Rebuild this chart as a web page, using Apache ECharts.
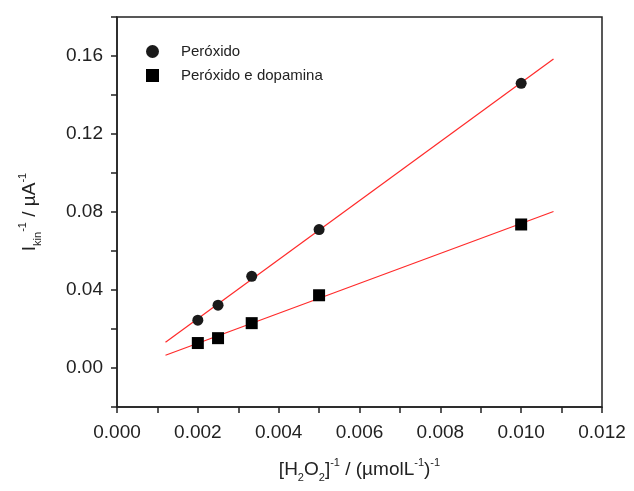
<!DOCTYPE html>
<html>
<head>
<meta charset="utf-8">
<script src="https://cdn.jsdelivr.net/npm/echarts@6/dist/echarts.min.js"></script>
<style>
  html, body { margin: 0; padding: 0; background: #fff; }
  #chart { width: 634px; height: 491px; }
</style>
</head>
<body>
<div id="chart"></div>
<script>
// dados
var xValues = [0.002, 0.0025, 0.003333, 0.005, 0.010];
var peroxido = [0.0245, 0.0322, 0.047, 0.071, 0.146];
var peroxidoDopamina = [0.0128, 0.0153, 0.023, 0.0373, 0.0736];
var seriesNames = ['Peróxido', 'Peróxido e dopamina'];
var fitRange = [0.0012, 0.0108];

// ajuste linear (mínimos quadrados)
function linFit(xs, ys) {
  var n = xs.length, sx = 0, sy = 0, sxx = 0, sxy = 0;
  for (var i = 0; i < n; i++) {
    sx += xs[i]; sy += ys[i]; sxx += xs[i] * xs[i]; sxy += xs[i] * ys[i];
  }
  var b = (n * sxy - sx * sy) / (n * sxx - sx * sx);
  var a = (sy - b * sx) / n;
  return fitRange.map(function (x) { return [x, a + b * x]; });
}

function pairs(xs, ys) {
  return xs.map(function (x, i) { return [x, ys[i]]; });
}

var font = '"Liberation Sans", Arial, sans-serif';
var chart = echarts.init(document.getElementById('chart'));

chart.setOption({
  animation: false,
  textStyle: { fontFamily: font },
  grid: {
    left: 117, right: 32, top: 17, bottom: 84,
    show: true, borderColor: '#222', borderWidth: 1.5
  },
  legend: {
    orient: 'vertical',
    left: 141, top: 39,
    itemWidth: 13, itemHeight: 13, itemGap: 9,
    data: [
      { name: seriesNames[0], icon: 'circle' },
      { name: seriesNames[1], icon: 'rect' }
    ],
    textStyle: { fontSize: 15, color: '#222', padding: [0, 0, 0, 17] }
  },
  xAxis: {
    type: 'value',
    min: 0, max: 0.012, interval: 0.001,
    splitLine: { show: false },
    axisLine: { onZero: false, lineStyle: { color: '#222', width: 1.5 } },
    axisTick: { length: 6, lineStyle: { color: '#222', width: 1.5 } },
    axisLabel: {
      fontSize: 19, color: '#222', margin: 16,
      formatter: function (v) {
        var k = Math.round(v * 1000);
        return k % 2 === 0 ? v.toFixed(3) : '';
      }
    },
    name: '{a|[H}{sub|2}{a|O}{sub|2}{a|]}{sup|-1}{a| / (µmolL}{sup|-1}{a|)}{sup|-1}',
    nameLocation: 'middle',
    nameGap: 50,
    nameTextStyle: {
      rich: {
        a: { fontSize: 19, color: '#222', lineHeight: 26 },
        sub: { fontSize: 11, color: '#222', verticalAlign: 'bottom', lineHeight: 26 },
        sup: { fontSize: 11, color: '#222', verticalAlign: 'top', lineHeight: 26 }
      }
    }
  },
  yAxis: {
    type: 'value',
    min: -0.02, max: 0.18, interval: 0.02,
    splitLine: { show: false },
    axisLine: { onZero: false, lineStyle: { color: '#222', width: 1.5 } },
    axisTick: { length: 6, lineStyle: { color: '#222', width: 1.5 } },
    axisLabel: {
      fontSize: 19, color: '#222', margin: 14,
      formatter: function (v) {
        var k = Math.round(v * 100);
        if (k < 0 || k > 16) return '';
        return k % 4 === 0 ? v.toFixed(2) : '';
      }
    },
    name: '{a|I}{sub|kin}{sup|-1}{a| / µA}{sup|-1}',
    nameLocation: 'middle',
    nameGap: 74,
    nameRotate: 90,
    nameTextStyle: {
      rich: {
        a: { fontSize: 19, color: '#222', lineHeight: 26 },
        sub: { fontSize: 11, color: '#222', verticalAlign: 'bottom', lineHeight: 26 },
        sup: { fontSize: 11, color: '#222', verticalAlign: 'top', lineHeight: 26 }
      }
    }
  },
  series: [
    {
      name: seriesNames[0] + ' ajuste',
      type: 'line',
      data: linFit(xValues, peroxido),
      showSymbol: false, silent: true,
      lineStyle: { color: '#ff2a2a', width: 1.2 }
    },
    {
      name: seriesNames[1] + ' ajuste',
      type: 'line',
      data: linFit(xValues, peroxidoDopamina),
      showSymbol: false, silent: true,
      lineStyle: { color: '#ff2a2a', width: 1.2 }
    },
    {
      name: seriesNames[0],
      type: 'scatter',
      symbol: 'circle',
      symbolSize: 11,
      itemStyle: { color: '#1a1a1a', opacity: 1 },
      data: pairs(xValues, peroxido),
      z: 3
    },
    {
      name: seriesNames[1],
      type: 'scatter',
      symbol: 'rect',
      symbolSize: 12,
      itemStyle: { color: '#000', opacity: 1 },
      data: pairs(xValues, peroxidoDopamina),
      z: 3
    }
  ]
});
</script>
</body>
</html>
